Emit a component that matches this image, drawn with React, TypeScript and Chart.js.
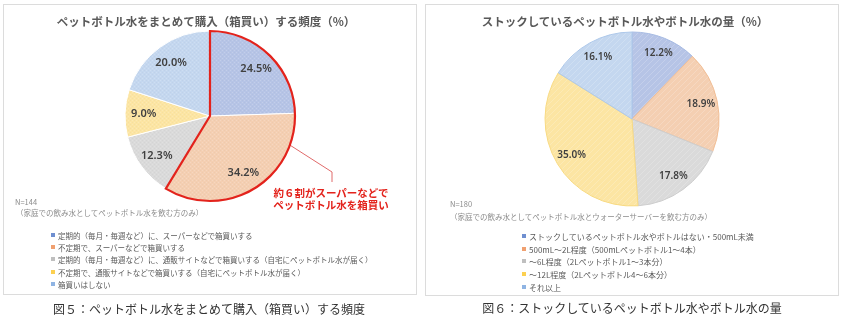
import React, { useEffect, useRef } from "react";
import { Chart, registerables } from "chart.js";

Chart.register(...registerables);

// ---------- data ----------
const leftTitle = "ペットボトル水をまとめて購入（箱買い）する頻度（%）";
const leftCategories = [
  "定期的（毎月・毎週など）に、スーパーなどで箱買いする",
  "不定期で、スーパーなどで箱買いする",
  "定期的（毎月・毎週など）に、通販サイトなどで箱買いする（自宅にペットボトル水が届く）",
  "不定期で、通販サイトなどで箱買いする（自宅にペットボトル水が届く）",
  "箱買いはしない",
];
const leftValues = [24.5, 34.2, 12.3, 9.0, 20.0];
const leftN = "N=144";
const leftNote = "（家庭での飲み水としてペットボトル水を飲む方のみ）";
const leftCallout = ["約６割がスーパーなどで", "ペットボトル水を箱買い"];
const leftCaption = "図５：ペットボトル水をまとめて購入（箱買い）する頻度";

const rightTitle = "ストックしているペットボトル水やボトル水の量（%）";
const rightCategories = [
  "ストックしているペットボトル水やボトルはない・500mL未満",
  "500mL～2L程度（500mLペットボトル1～4本）",
  "～6L程度（2Lペットボトル1～3本分）",
  "～12L程度（2Lペットボトル4～6本分）",
  "それ以上",
];
const rightValues = [12.2, 18.9, 17.8, 35.0, 16.1];
const rightN = "N=180";
const rightNote = "（家庭での飲み水としてペットボトル水とウォーターサーバーを飲む方のみ）";
const rightCaption = "図６：ストックしているペットボトル水やボトル水の量";

// ---------- styles ----------
const sliceColors = ["#b6c4e6", "#f4cfb2", "#dadada", "#fce5a3", "#c4d7ef"];
const rightBorders = ["#a7bbe3", "#f1be95", "#cdcdcd", "#f8da82", "#adc8ea"];
const markerColors = ["#6f8fd0", "#f0a070", "#bfbfbf", "#fcd050", "#8fb4e3"];
const FONT = '"Noto Sans CJK JP", "Noto Sans", sans-serif';

function makePattern(base: string, kind: "dots" | "stripes"): CanvasPattern | string {
  const c = document.createElement("canvas");
  const size = kind === "dots" ? 4 : 6;
  c.width = size;
  c.height = size;
  const g = c.getContext("2d");
  if (!g) return base;
  g.fillStyle = base;
  g.fillRect(0, 0, size, size);
  if (kind === "dots") {
    g.fillStyle = "rgba(255,255,255,0.18)";
    g.fillRect(0, 0, 1, 1);
    g.fillRect(2, 2, 1, 1);
    g.fillStyle = "rgba(0,0,0,0.025)";
    g.fillRect(2, 0, 1, 1);
    g.fillRect(0, 2, 1, 1);
  } else {
    g.fillStyle = "rgba(255,255,255,0.2)";
    for (let i = 0; i < size; i++) {
      g.fillRect(i, size - 1 - i, 1, 1);
    }
  }
  return g.createPattern(c, "repeat") || base;
}

const pctLabels = {
  id: "pctLabels",
  afterDatasetsDraw(chart: any, _args: any, opts: any) {
    const ctx = chart.ctx;
    const meta = chart.getDatasetMeta(0);
    const data = chart.data.datasets[0].data as number[];
    ctx.save();
    ctx.font = opts.font;
    ctx.fillStyle = opts.color;
    ctx.textAlign = "center";
    ctx.textBaseline = "middle";
    meta.data.forEach((arc: any, i: number) => {
      const p = arc.getProps(["x", "y", "startAngle", "endAngle", "outerRadius"], true);
      const mid = (p.startAngle + p.endAngle) / 2;
      const r = p.outerRadius * opts.factor;
      ctx.fillText(data[i].toFixed(1) + "%", p.x + Math.cos(mid) * r, p.y + Math.sin(mid) * r);
    });
    ctx.restore();
  },
};

const highlight = {
  id: "highlight",
  afterDatasetsDraw(chart: any, _args: any, opts: any) {
    if (!opts || !opts.enabled) return;
    const meta = chart.getDatasetMeta(0);
    const first = meta.data[0].getProps(["x", "y", "startAngle", "outerRadius"], true);
    const last = meta.data[opts.count - 1].getProps(["endAngle"], true);
    const { x, y, outerRadius: r, startAngle: s } = first;
    const e = last.endAngle;
    const ctx = chart.ctx;
    ctx.save();
    // callout line
    const a = (opts.calloutAngle * Math.PI) / 180;
    ctx.strokeStyle = opts.lineColor;
    ctx.lineWidth = 1;
    ctx.beginPath();
    ctx.moveTo(x + Math.cos(a) * r, y + Math.sin(a) * r);
    ctx.lineTo(x + opts.elbow[0], y + opts.elbow[1]);
    ctx.lineTo(x + opts.elbow[0], y + opts.elbow[1] + opts.drop);
    ctx.stroke();
    // outline
    ctx.strokeStyle = opts.color;
    ctx.lineWidth = opts.width;
    ctx.lineJoin = "miter";
    ctx.beginPath();
    ctx.moveTo(x, y);
    ctx.lineTo(x + Math.cos(s) * r, y + Math.sin(s) * r);
    ctx.arc(x, y, r, s, e);
    ctx.closePath();
    ctx.stroke();
    ctx.restore();
  },
};

type PieProps = {
  values: number[];
  labels: string[];
  kind: "dots" | "stripes";
  borders: string[] | string;
  left: number;
  top: number;
  width: number;
  height: number;
  padRight: number;
  radius: number;
  labelFont: string;
  labelFactor: number;
  hl?: any;
};

function Pie(props: PieProps) {
  const ref = useRef<HTMLCanvasElement | null>(null);
  useEffect(() => {
    if (!ref.current) return;
    const bg = sliceColors.map((c) => makePattern(c, props.kind));
    const chart = new Chart(ref.current, {
      type: "pie",
      data: {
        labels: props.labels,
        datasets: [
          {
            data: props.values,
            backgroundColor: bg as any,
            borderColor: props.borders as any,
            borderWidth: 1,
          },
        ],
      },
      options: {
        responsive: false,
        animation: false,
        events: [],
        radius: props.radius,
        layout: { padding: { left: 0, right: props.padRight, top: 0, bottom: 0 } },
        plugins: {
          legend: { display: false },
          tooltip: { enabled: false },
          pctLabels: { font: props.labelFont, color: "#404040", factor: props.labelFactor },
          highlight: props.hl || { enabled: false },
        } as any,
      } as any,
      plugins: [pctLabels, highlight],
    });
    return () => chart.destroy();
  }, []);
  return (
    <canvas
      ref={ref}
      width={props.width}
      height={props.height}
      style={{ position: "absolute", left: props.left, top: props.top, width: props.width, height: props.height }}
    />
  );
}

function T(p: {
  x: number;
  y: number;
  size: number;
  color?: string;
  weight?: number | string;
  center?: boolean;
  children: React.ReactNode;
}) {
  const lh = Math.round(p.size * 1.4);
  return (
    <div
      style={{
        position: "absolute",
        left: p.x,
        top: p.y - lh / 2,
        fontSize: p.size,
        lineHeight: `${lh}px`,
        color: p.color || "#595959",
        fontWeight: p.weight || 400,
        whiteSpace: "nowrap",
        transform: p.center ? "translateX(-50%)" : undefined,
      }}
    >
      {p.children}
    </div>
  );
}

function Legend(p: { items: string[]; x: number; ys: number[]; size: number }) {
  return (
    <>
      {p.items.map((t, i) => (
        <React.Fragment key={i}>
          <div
            style={{
              position: "absolute",
              left: p.x,
              top: p.ys[i] - 2,
              width: 4,
              height: 4,
              background: markerColors[i],
            }}
          />
          <T x={p.x + 7} y={p.ys[i]} size={p.size}>
            {t}
          </T>
        </React.Fragment>
      ))}
    </>
  );
}

export default function App() {
  return (
    <div
      style={{
        position: "absolute",
        left: 0,
        top: 0,
        width: 849,
        height: 323,
        background: "#fff",
        fontFamily: FONT,
        overflow: "hidden",
      }}
    >
      {/* panel frames */}
      <div style={{ position: "absolute", left: 3, top: 4, width: 414, height: 291, border: "1px solid #dcdcdc", boxSizing: "border-box" }} />
      <div style={{ position: "absolute", left: 425, top: 4, width: 414, height: 292, border: "1px solid #dcdcdc", boxSizing: "border-box" }} />

      {/* left panel */}
      <Pie
        values={leftValues}
        labels={leftCategories}
        kind="dots"
        borders="#ffffff"
        left={0}
        top={0}
        width={425}
        height={232}
        padRight={5}
        radius={85}
        labelFont={`600 11px "Noto Sans", "DejaVu Sans", sans-serif`}
        labelFactor={0.78}
        hl={{
          enabled: true,
          count: 2,
          color: "#e3231c",
          width: 2.2,
          lineColor: "#e06a6a",
          calloutAngle: 20,
          elbow: [122, 56],
          drop: 10,
        }}
      />
      <T x={206} y={21} size={11.5} weight={700} center>
        {leftTitle}
      </T>
      <T x={331} y={192} size={10.5} weight={700} color="#e3231c" center>
        {leftCallout[0]}
      </T>
      <T x={331} y={204} size={10.5} weight={700} color="#e3231c" center>
        {leftCallout[1]}
      </T>
      <T x={15} y={201} size={7.5} color="#8c8c8c">
        {leftN}
      </T>
      <T x={16} y={212} size={7.5} color="#8c8c8c">
        {leftNote}
      </T>
      <Legend items={leftCategories} x={51} ys={[235, 247, 259, 272, 284]} size={7.5} />
      <T x={209} y={308} size={12} color="#333333" center>
        {leftCaption}
      </T>

      {/* right panel */}
      <Pie
        values={rightValues}
        labels={rightCategories}
        kind="stripes"
        borders={rightBorders}
        left={425}
        top={0}
        width={424}
        height={238}
        padRight={10}
        radius={87}
        labelFont={`600 10px "Noto Sans", "DejaVu Sans", sans-serif`}
        labelFactor={0.81}
      />
      <T x={625} y={21} size={11.5} weight={700} center>
        {rightTitle}
      </T>
      <T x={450} y={203} size={7.5} color="#8c8c8c">
        {rightN}
      </T>
      <T x={450} y={216} size={7.5} color="#8c8c8c">
        {rightNote}
      </T>
      <Legend items={rightCategories} x={522} ys={[236, 249, 261, 274, 287]} size={8} />
      <T x={632} y={307} size={12} color="#333333" center>
        {rightCaption}
      </T>
    </div>
  );
}
